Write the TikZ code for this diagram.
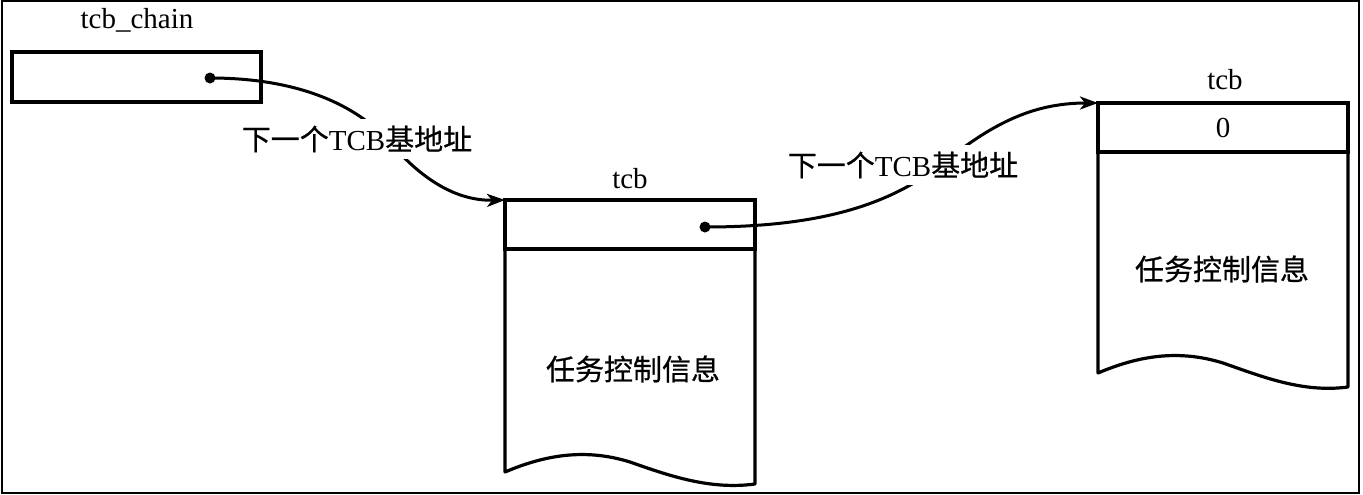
\documentclass[tikz,border=0pt]{standalone}
\usepackage{fontspec}
\setmainfont{Liberation Serif}
\newfontfamily\cjk[FakeBold=0.6]{Noto Sans CJK SC}
\usetikzlibrary{arrows.meta}
\begin{document}
\begin{tikzpicture}[x=0.5pt,y=-0.5pt,
  box/.style={draw,line width=1.6pt,inner sep=0pt,outer sep=0pt,anchor=north west,minimum width=125pt,minimum height=24.5pt,font=\fontsize{14.5pt}{17pt}\selectfont},
  body/.style={line width=1.6pt,line join=round},
  lbl/.style={font=\fontsize{14.5pt}{17pt}\selectfont,inner sep=1pt},
  wl/.style={lbl,fill=white,inner xsep=1pt,inner ysep=3.5pt},
  dotn/.style={circle,fill,inner sep=0pt,outer sep=0pt,minimum size=5.5pt},
  conn/.style={line width=1.5pt,-{Stealth[length=9pt,width=6.5pt,inset=2.5pt]}}]
\useasboundingbox (0,0) rectangle (1363,494);
\draw[line width=1pt] (1.5,1) rectangle (1359,493);

% tcb_chain
\node[lbl] (chainlbl) at (137,20) {tcb\_chain};
\node[box,minimum width=124.5pt,minimum height=25pt] (chain) at (12,52) {};
\node[dotn] (dot1) at (210,78) {};

% first tcb
\node[lbl] (tcblbl1) at (630,179) {tcb};
\node[box] (tcb1) at (505,200) {};
\node[dotn] (dot2) at (705,227) {};
\draw[body] (tcb1.south west) -- ++(0,223)
  .. controls +(40,-17) and +(-45,-14) .. ++(125,-10)
  .. controls +(40,14) and +(-45,6) .. ++(125,22)
  -- (tcb1.south east);
\node[lbl] (info1) at (633,369) {\cjk 任务控制信息};

% second tcb
\node[lbl] (tcblbl2) at (1225,80) {tcb};
\node[box] (tcb2) at (1098,103) {0};
\draw[body] (tcb2.south west) -- ++(0,221)
  .. controls +(40,-17) and +(-45,-14) .. ++(125,-10)
  .. controls +(40,14) and +(-45,6) .. ++(125,24)
  -- (tcb2.south east);
\node[lbl] (info2) at (1222,269) {\cjk 任务控制信息};

% connectors
\draw[conn] (dot1.center) .. controls (290,78) and (350,100) .. (388,140)
  .. controls (420,178) and (455,201) .. (tcb1.north west);
\draw[conn] (dot2.center) .. controls (820,227) and (890,205) .. (943,163)
  .. controls (990,126) and (1030,103) .. (tcb2.north west);

\node[wl] (next1) at (357,139) {{\cjk 下一个}TCB{\cjk 基地址}};
\node[wl] (next2) at (903,165) {{\cjk 下一个}TCB{\cjk 基地址}};
\end{tikzpicture}
\end{document}
